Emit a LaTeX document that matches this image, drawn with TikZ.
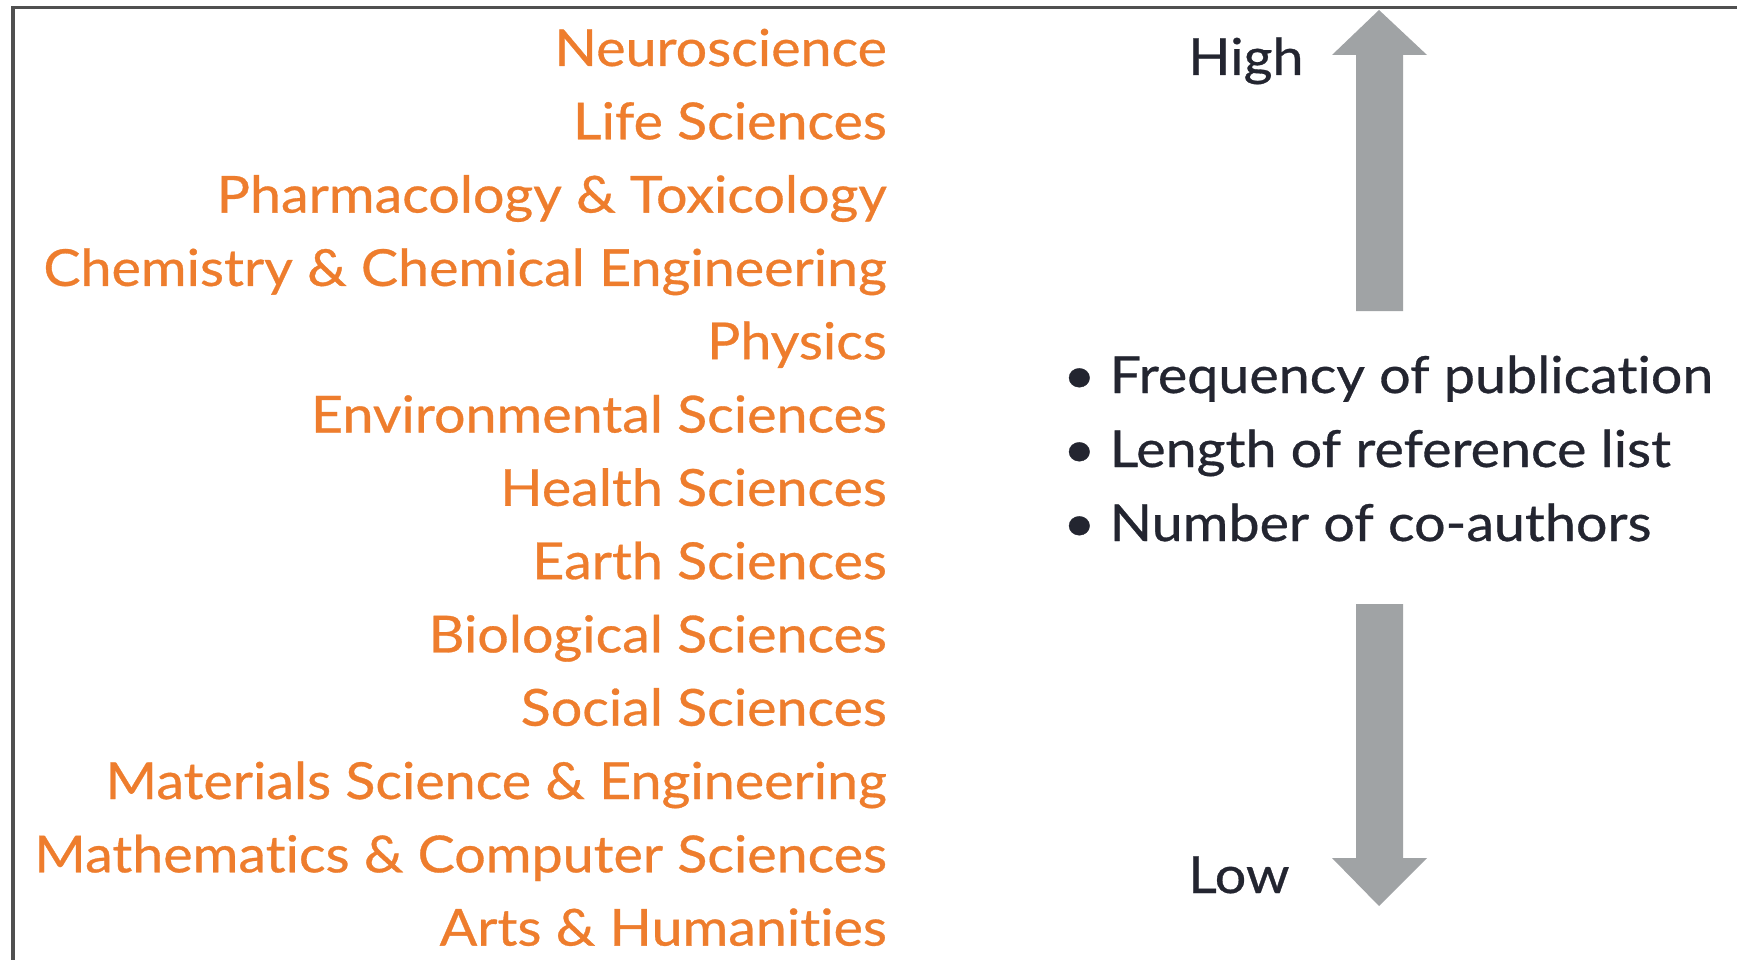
\documentclass[tikz,border=0pt]{standalone}
\usepackage{fontspec}
\setmainfont{Lato}[FakeStretch=1.09,FakeBold=0.6,Ligatures=NoCommon]
\definecolor{fieldorange}{RGB}{238,125,45}
\definecolor{darktext}{RGB}{35,37,48}
\definecolor{arrowgray}{RGB}{160,163,165}
\definecolor{framegray}{RGB}{80,80,80}
\begin{document}
\begin{tikzpicture}[x=1pt,y=-1pt,
  field/.style={anchor=base east,inner sep=0pt,text=fieldorange,font=\fontsize{51}{60}\selectfont},
  label/.style={anchor=base west,inner sep=0pt,text=darktext,font=\fontsize{51}{60}\selectfont},
  bigarrow/.style={fill=arrowgray,draw=none}]
\useasboundingbox (0,0) rectangle (1737,960);
\fill[white] (0,0) rectangle (1737,960);
\draw[framegray,line width=3.5pt] (13,960) -- (13,7.5) -- (1737,7.5);
% fields
\foreach \t [count=\i from 0] in {Neuroscience,Life Sciences,Pharmacology \& Toxicology,Chemistry \& Chemical Engineering,Physics,Environmental Sciences,Health Sciences,Earth Sciences,Biological Sciences,Social Sciences,Materials Science \& Engineering,Mathematics \& Computer Sciences,Arts \& Humanities}
  \node[field] (f\i) at (887,{66+73.3*\i}) {\t};
% arrows
\fill[bigarrow] (1356,311) -- (1356,55) -- (1332,55) -- (1379,10) -- (1427,55) -- (1403,55) -- (1403,311) -- cycle;
\fill[bigarrow] (1356,604) -- (1356,858) -- (1332,858) -- (1379,906) -- (1427,858) -- (1403,858) -- (1403,604) -- cycle;
\node[label] (high) at (1188,75) {High};
\node[label] (low) at (1188,893) {Low};
\node[label] (b1) at (1063,393) {• Frequency of publication};
\node[label] (b2) at (1063,467) {• Length of reference list};
\node[label] (b3) at (1063,541) {• Number of co-authors};
\end{tikzpicture}
\end{document}
